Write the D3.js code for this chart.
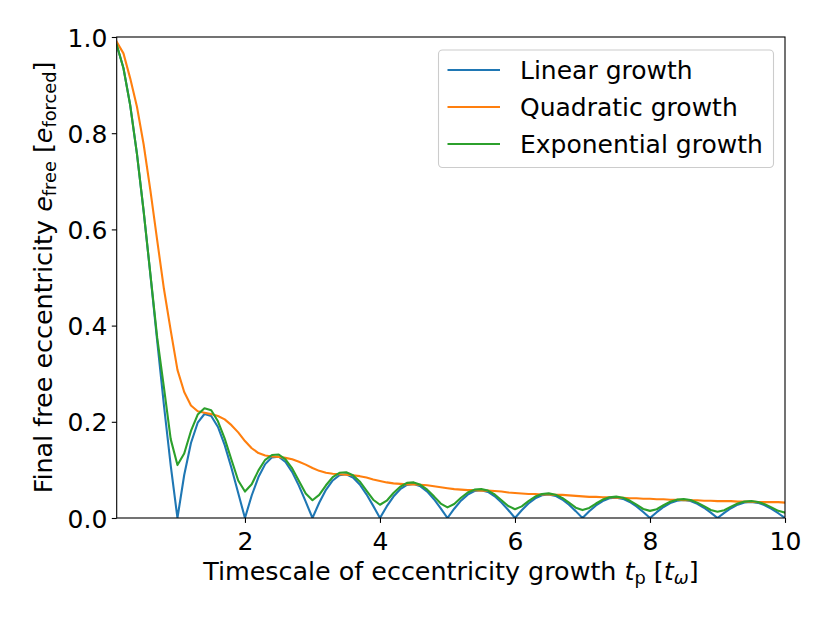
<!DOCTYPE html>
<html>
<head>
<meta charset="utf-8">
<script src="https://cdn.jsdelivr.net/npm/d3@7/dist/d3.min.js"></script>
<style>
  html, body { margin: 0; padding: 0; background: #fff; }
  svg { display: block; font-family: "DejaVu Sans", sans-serif; }
</style>
</head>
<body>
<svg id="chart" width="830" height="623"></svg>
<script>
// ---- data ----
const timescale = [
  0.1,0.2,0.3,0.4,0.5,0.6,0.7,0.8,0.9,1.0,
  1.1,1.2,1.3,1.4,1.5,1.6,1.7,1.8,1.9,2.0,
  2.1,2.2,2.3,2.4,2.5,2.6,2.7,2.8,2.9,3.0,
  3.1,3.2,3.3,3.4,3.5,3.6,3.7,3.8,3.9,4.0,
  4.1,4.2,4.3,4.4,4.5,4.6,4.7,4.8,4.9,5.0,
  5.1,5.2,5.3,5.4,5.5,5.6,5.7,5.8,5.9,6.0,
  6.1,6.2,6.3,6.4,6.5,6.6,6.7,6.8,6.9,7.0,
  7.1,7.2,7.3,7.4,7.5,7.6,7.7,7.8,7.9,8.0,
  8.1,8.2,8.3,8.4,8.5,8.6,8.7,8.8,8.9,9.0,
  9.1,9.2,9.3,9.4,9.5,9.6,9.7,9.8,9.9,10.0
];
const linearGrowth = [
  0.9836,0.9355,0.8584,0.7568,0.6366,0.5046,0.3679,0.2339,0.1093,0.0,
  0.0894,0.1559,0.1981,0.2162,0.2122,0.1892,0.1515,0.1039,0.0518,0.0,
  0.0468,0.0851,0.1120,0.1261,0.1273,0.1164,0.0954,0.0668,0.0339,0.0,
  0.0317,0.0585,0.0780,0.0890,0.0910,0.0841,0.0696,0.0492,0.0252,0.0,
  0.0240,0.0446,0.0599,0.0688,0.0707,0.0658,0.0548,0.0390,0.0201,0.0,
  0.0193,0.0360,0.0486,0.0561,0.0579,0.0541,0.0452,0.0323,0.0167,0.0,
  0.0161,0.0302,0.0409,0.0473,0.0490,0.0459,0.0384,0.0275,0.0143,0.0,
  0.0139,0.0260,0.0353,0.0409,0.0424,0.0398,0.0334,0.0240,0.0125,0.0,
  0.0121,0.0228,0.0310,0.0360,0.0375,0.0352,0.0296,0.0213,0.0111,0.0,
  0.0108,0.0203,0.0277,0.0322,0.0335,0.0315,0.0266,0.0191,0.0099,0.0
];
const quadraticGrowth = [
  0.990,0.966,0.914,0.855,0.776,0.680,0.577,0.476,0.390,0.308,
  0.262,0.234,0.222,0.219,0.216,0.212,0.205,0.193,0.178,0.160,
  0.145,0.135,0.130,0.128,0.127,0.125,0.122,0.117,0.111,0.104,
  0.098,0.094,0.092,0.091,0.090,0.089,0.087,0.084,0.080,0.077,
  0.074,0.072,0.071,0.070,0.070,0.069,0.068,0.066,0.064,0.062,
  0.060,0.059,0.058,0.058,0.057,0.057,0.056,0.055,0.053,0.052,
  0.051,0.050,0.050,0.049,0.049,0.048,0.048,0.047,0.046,0.045,
  0.044,0.044,0.043,0.043,0.042,0.042,0.041,0.041,0.040,0.040,
  0.039,0.039,0.038,0.038,0.037,0.037,0.037,0.036,0.036,0.035,
  0.035,0.035,0.034,0.034,0.034,0.033,0.033,0.033,0.033,0.032
];
const exponentialGrowth = [
  0.984,0.935,0.858,0.757,0.637,0.506,0.375,0.271,0.164,0.110,
  0.134,0.181,0.215,0.228,0.224,0.201,0.165,0.121,0.078,0.055,
  0.070,0.099,0.121,0.131,0.132,0.122,0.103,0.077,0.051,0.037,
  0.048,0.068,0.085,0.094,0.095,0.089,0.076,0.057,0.038,0.0275,
  0.036,0.052,0.065,0.073,0.074,0.069,0.059,0.045,0.030,0.022,
  0.029,0.042,0.053,0.059,0.060,0.057,0.049,0.037,0.025,0.0183,
  0.0242,0.035,0.0445,0.0500,0.0512,0.0485,0.0418,0.0319,0.0214,0.0164,
  0.0208,0.0301,0.0384,0.0432,0.0445,0.0421,0.0362,0.0278,0.0187,0.0148,
  0.0182,0.0265,0.0337,0.0382,0.0393,0.0373,0.0320,0.0247,0.0166,0.0130,
  0.0162,0.0236,0.0301,0.0341,0.0352,0.0333,0.0288,0.0221,0.0149,0.0110
];
const seriesNames = ["Linear growth", "Quadratic growth", "Exponential growth"];
const seriesColors = ["#1f77b4", "#ff7f0e", "#2ca02c"];
const xTicks = [2, 4, 6, 8, 10];
const yTicks = [0.0, 0.2, 0.4, 0.6, 0.8, 1.0];

// ---- layout ----
const margin = {left: 116.7, right: 830 - 785, top: 37, bottom: 623 - 518};
const W = 830, H = 623;
const svg = d3.select("#chart");
const x = d3.scaleLinear().domain([0.1, 10]).range([margin.left, W - margin.right]);
const y = d3.scaleLinear().domain([0, 1]).range([H - margin.bottom, margin.top]);

const FS = 25;
const LFS = 25.4;

svg.append("defs").append("clipPath").attr("id", "clip")
  .append("rect")
  .attr("x", x.range()[0]).attr("y", y.range()[1])
  .attr("width", x.range()[1] - x.range()[0])
  .attr("height", y.range()[0] - y.range()[1]);

const seriesData = [linearGrowth, quadraticGrowth, exponentialGrowth];
const line = d3.line().x((d, i) => x(timescale[i])).y(d => y(d));
const plot = svg.append("g").attr("clip-path", "url(#clip)");
seriesData.forEach((vals, k) => {
  plot.append("path")
    .datum(vals)
    .attr("d", line)
    .attr("fill", "none")
    .attr("stroke", seriesColors[k])
    .attr("stroke-width", 2.1)
    .attr("stroke-linejoin", "round")
    .attr("stroke-linecap", "square");
});

// axes
const xAxis = d3.axisBottom(x).tickValues(xTicks).tickFormat(d3.format("d")).tickSize(4.9).tickPadding(4.5);
const yAxis = d3.axisLeft(y).tickValues(yTicks).tickFormat(d3.format(".1f")).tickSize(4.9).tickPadding(4.5);

const gx = svg.append("g").attr("transform", `translate(0,${y(0)})`).call(xAxis);
const gy = svg.append("g").attr("transform", `translate(${x(0.1)},0)`).call(yAxis);
[gx, gy].forEach(g => {
  g.select(".domain").remove();
  g.selectAll(".tick line").attr("stroke", "#000").attr("stroke-width", 1.1);
  g.selectAll(".tick text").attr("fill", "#000").attr("font-size", FS)
    .attr("font-family", "DejaVu Sans, sans-serif");
});
gx.selectAll(".tick text").attr("dy", null).attr("y", 32);
gy.selectAll(".tick text").attr("dy", "0.36em");

// frame
svg.append("rect")
  .attr("x", x.range()[0]).attr("y", y.range()[1])
  .attr("width", x.range()[1] - x.range()[0])
  .attr("height", y.range()[0] - y.range()[1])
  .attr("fill", "none").attr("stroke", "#000").attr("stroke-width", 1.1);

// axis labels
const xl = svg.append("text")
  .attr("x", (x.range()[0] + x.range()[1]) / 2).attr("y", 580)
  .attr("text-anchor", "middle").attr("font-size", LFS).attr("fill", "#000");
xl.append("tspan").text("Timescale of eccentricity growth ");
xl.append("tspan").attr("font-style", "italic").text("t");
xl.append("tspan").attr("font-size", LFS * 0.7).attr("dy", 4).text("p");
xl.append("tspan").attr("dy", -4).text(" [");
xl.append("tspan").attr("font-style", "italic").text("t");
xl.append("tspan").attr("font-size", LFS * 0.7).attr("font-style", "italic").attr("dy", 4).text("ω");
xl.append("tspan").attr("dy", -4).text("]");

const yl = svg.append("text")
  .attr("transform", `translate(52,${(y.range()[0] + y.range()[1]) / 2}) rotate(-90)`)
  .attr("text-anchor", "middle").attr("font-size", LFS).attr("fill", "#000");
yl.append("tspan").text("Final free eccentricity ");
yl.append("tspan").attr("font-style", "italic").text("e");
yl.append("tspan").attr("font-size", LFS * 0.7).attr("dy", 4).text("free");
yl.append("tspan").attr("dy", -4).text(" [");
yl.append("tspan").attr("font-style", "italic").text("e");
yl.append("tspan").attr("font-size", LFS * 0.7).attr("dy", 4).text("forced");
yl.append("tspan").attr("dy", -4).text("]");

// legend
const lg = svg.append("g");
lg.append("rect")
  .attr("x", 438.5).attr("y", 50).attr("width", 335).attr("height", 117.5)
  .attr("rx", 4).attr("ry", 4)
  .attr("fill", "#fff").attr("fill-opacity", 0.8)
  .attr("stroke", "#cccccc").attr("stroke-width", 1.1);
const rowY = [70, 107, 144];
seriesNames.forEach((name, k) => {
  lg.append("line")
    .attr("x1", 447.5).attr("x2", 500)
    .attr("y1", rowY[k]).attr("y2", rowY[k])
    .attr("stroke", seriesColors[k]).attr("stroke-width", 2.1);
  lg.append("text")
    .attr("x", 520).attr("y", rowY[k]).attr("dy", "0.36em")
    .attr("font-size", FS).attr("fill", "#000").text(name);
});
</script>
</body>
</html>
